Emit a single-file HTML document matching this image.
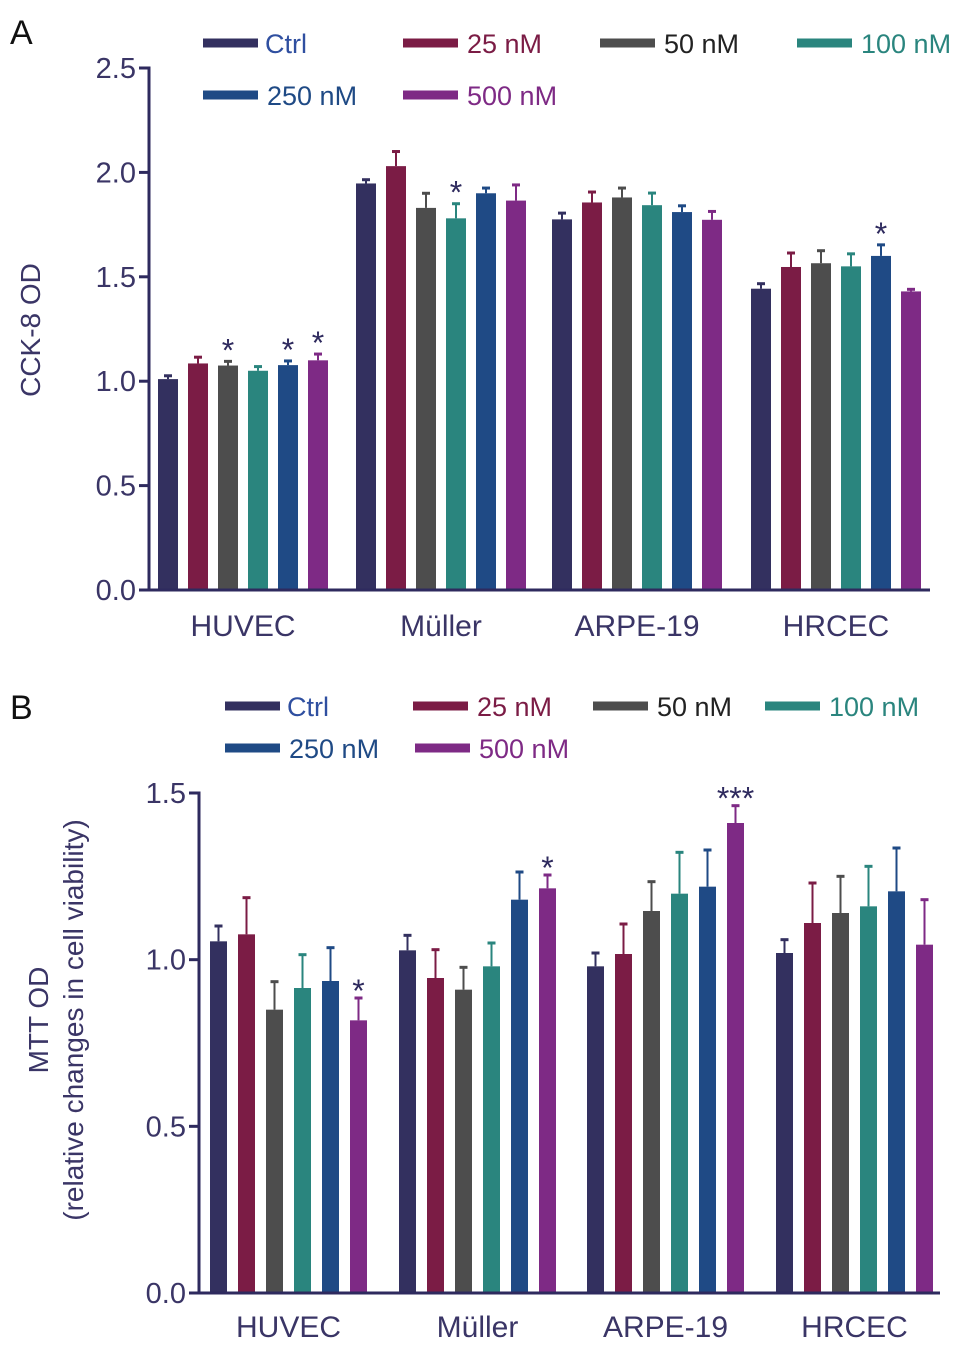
<!DOCTYPE html>
<html><head><meta charset="utf-8"><style>
html,body{margin:0;padding:0;background:#fff;}
svg{display:block;font-family:"Liberation Sans",Arial,sans-serif;}
</style></head><body>
<svg id="chart" width="969" height="1351" viewBox="0 0 969 1351" xmlns="http://www.w3.org/2000/svg">
<text x="10" y="44" font-size="34" fill="#111">A</text>
<text x="10" y="719" font-size="34" fill="#111">B</text>
<text transform="translate(40,330) rotate(-90)" text-anchor="middle" font-size="28" fill="#3a3566">CCK-8 OD</text>
<text transform="translate(48,1020) rotate(-90)" text-anchor="middle" font-size="28" fill="#3a3566">MTT OD</text>
<text transform="translate(83,1020) rotate(-90)" text-anchor="middle" font-size="28" fill="#3a3566">(relative changes in cell viability)</text>
</svg>
<script>
const categories=["HUVEC","Müller","ARPE-19","HRCEC"];
const seriesNames=["Ctrl","25 nM","50 nM","100 nM","250 nM","500 nM"];
const colors=["#33305f","#7b1c45","#4d4d4d","#2a857e","#1f4a85","#7e2a85"];
const textColors=["#2f4fa0","#7b1c45","#222","#2a857e","#1f4a85","#7e2a85"];
const cckMeans=[[1.01,1.085,1.075,1.05,1.077,1.10],[1.947,2.03,1.83,1.78,1.90,1.865],[1.775,1.856,1.88,1.843,1.81,1.773],[1.443,1.547,1.565,1.55,1.60,1.43]];
const cckErr=[[0.016,0.03,0.02,0.02,0.02,0.03],[0.018,0.07,0.07,0.07,0.025,0.075],[0.03,0.05,0.045,0.058,0.03,0.04],[0.024,0.067,0.06,0.06,0.053,0.01]];
const cckStars=[["","","*","","*","*"],["","","","*","",""],["","","","","",""],["","","","","*",""]];
const cckTicks=[0,0.5,1.0,1.5,2.0,2.5];
const mttMeans=[[1.055,1.076,0.85,0.915,0.936,0.818],[1.028,0.945,0.91,0.98,1.18,1.214],[0.98,1.017,1.146,1.198,1.219,1.41],[1.02,1.11,1.14,1.16,1.205,1.045]];
const mttErr=[[0.046,0.11,0.084,0.1,0.1,0.067],[0.045,0.085,0.067,0.07,0.083,0.04],[0.04,0.09,0.088,0.124,0.11,0.052],[0.04,0.12,0.11,0.12,0.13,0.135]];
const mttStars=[["","","","","","*"],["","","","","","*"],["","","","","","***"],["","","","","",""]];
const mttTicks=[0,0.5,1.0,1.5];

const NS="http://www.w3.org/2000/svg";
const svg=document.getElementById('chart');
function mk(tag,attrs,parent){const e=document.createElementNS(NS,tag);for(const k in attrs)e.setAttribute(k,attrs[k]);(parent||svg).appendChild(e);return e;}

function panel(cfg){
  const g=mk('g',{});
  
  
  const y=v=>cfg.y0-(v-0)*(cfg.y0-cfg.yTop)/cfg.yMax;
  const axc="#2e2a5e";
  cfg.means.forEach((grp,ci)=>{
    grp.forEach((v,si)=>{
      const x=cfg.gx[ci]+si*cfg.step;
      const top=y(v), et=y(v+cfg.err[ci][si]), cx=x+cfg.bw/2;
      const eb=mk('line',{x1:cx,x2:cx,y1:top,y2:et,stroke:colors[si],'stroke-width':2},g);
      
      
      const cap=mk('line',{x1:cx-4,x2:cx+4,y1:et,y2:et,stroke:colors[si],'stroke-width':3},g);
      
      
      const r=mk('rect',{x:x,y:top,width:cfg.bw,height:cfg.y0-top,fill:colors[si]},g);
      
      
      const s=cfg.stars[ci][si];
      if(s){const t=mk('text',{x:cx,y:et-(cfg.starGap)+8,'text-anchor':'middle','font-size':cfg.starSize,fill:axc},g);t.textContent=s;
        
        }
    });
    const lbl=mk('text',{x:cfg.gx[ci]+(5*cfg.step+cfg.bw)/2,y:cfg.catY,'text-anchor':'middle','font-size':30,fill:'#3a3566'},g);
    lbl.textContent=categories[ci];
    
    
  });
  const ya=mk('line',{x1:cfg.ax,x2:cfg.ax,y1:cfg.yTop-1.5,y2:cfg.y0+1.5,stroke:axc,'stroke-width':3},g);
  
  
  const xa=mk('line',{x1:cfg.ax-10,x2:cfg.xEnd,y1:cfg.y0,y2:cfg.y0,stroke:axc,'stroke-width':3},g);
  
  
  cfg.ticks.forEach(tv=>{
    const ty=y(tv);
    const tk=mk('line',{x1:cfg.ax-10,x2:cfg.ax,y1:ty,y2:ty,stroke:axc,'stroke-width':3},g);
    
    
    const tl=mk('text',{x:cfg.ax-13,y:ty+10,'text-anchor':'end','font-size':29,fill:'#3a3566'},g);
    tl.textContent=tv.toFixed(1);
    
    
  });
  cfg.legend.forEach((p,si)=>{
    const lg=mk('g',{},g);
    
    
    mk('line',{x1:p[0],x2:p[0]+55,y1:p[1],y2:p[1],stroke:colors[si],'stroke-width':9},lg);
    const t=mk('text',{x:p[0]+(si==0?62:64),y:p[1]+10,'font-size':27,fill:textColors[si]},lg);
    t.textContent=seriesNames[si];
  });
}

panel({name:'panel-a-chart',means:cckMeans,err:cckErr,stars:cckStars,ticks:cckTicks,
  y0:590,yTop:68,yMax:2.5,ax:149,xEnd:930,gx:[158,356,552,751],step:30,bw:20,
  catY:636,starGap:8,starSize:32,
  legend:[[203,43],[403,43],[600,43],[797,43],[203,95],[403,95]]});
panel({name:'panel-b-chart',means:mttMeans,err:mttErr,stars:mttStars,ticks:mttTicks,
  y0:1293,yTop:793,yMax:1.5,ax:199,xEnd:940,gx:[210,399,587,776],step:28,bw:17,
  catY:1337,starGap:4,starSize:32,
  legend:[[225,706],[413,706],[593,706],[765,706],[225,748],[415,748]]});
</script>
</body></html>
